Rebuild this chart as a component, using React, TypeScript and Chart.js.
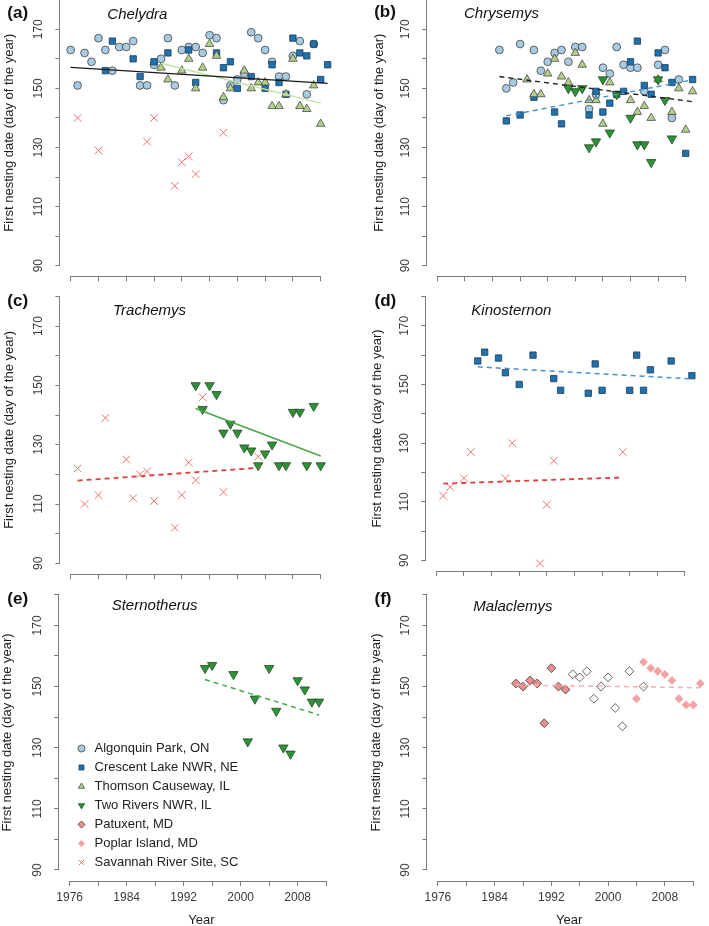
import React, { useEffect, useRef } from 'react';
import { Chart, registerables } from 'chart.js';

Chart.register(...registerables);

const FONT = "'Liberation Sans', Arial, Helvetica, sans-serif";
Chart.defaults.font.family = FONT;

// ---------------- data ----------------
const SITE_NAMES = [
  'Algonquin Park, ON',
  'Crescent Lake NWR, NE',
  'Thomson Causeway, IL',
  'Two Rivers NWR, IL',
  'Patuxent, MD',
  'Poplar Island, MD',
  'Savannah River Site, SC',
];
const Y_TITLE = 'First nesting date (day of the year)';
const X_TITLE = 'Year';
const Y_LABELLED_TICKS = [90, 110, 130, 150, 170];
const X_LABELLED_TICKS = [1976, 1984, 1992, 2000, 2008];

// (a) Chelydra
const A_ALG_YEARS = [1976, 1977, 1978, 1979, 1980, 1981, 1982, 1983, 1984, 1985, 1986, 1987, 1988, 1989, 1990, 1991, 1992, 1993, 1994, 1995, 1996, 1997, 1998, 1999, 2000, 2001, 2002, 2003, 2004, 2005, 2006, 2007, 2008, 2009, 2010, 2011];
const A_ALG = [163, 151, 162, 159, 167, 163, 156, 164, 164, 166, 151, 151, 158, 160, 167, 151, 163, 164, 164, 162, 168, 167, 146, 151, 153, 155, 169, 167, 163, 159, 154, 154, 161, 166, 148, 165];
const A_CRE_YEARS = [1981, 1982, 1985, 1986, 1988, 1990, 1993, 1994, 1997, 1998, 1999, 2000, 2002, 2004, 2005, 2006, 2007, 2008, 2009, 2010, 2011, 2012, 2013];
const A_CRE = [156, 166, 160, 154, 159, 162, 163, 152, 162, 157, 159, 150, 154, 150, 158, 152, 148, 167, 162, 161, 165, 153, 158];
const A_THO_YEARS = [1989, 1990, 1992, 1993, 1994, 1995, 1996, 1997, 1998, 1999, 2001, 2002, 2003, 2004, 2005, 2006, 2007, 2008, 2009, 2010, 2011, 2012];
const A_THO = [157, 153, 156, 160, 150, 157, 165, 161, 147, 150, 156, 150, 152, 152, 144, 144, 148, 160, 144, 143, 151, 138];
const A_SAV_YEARS = [1977, 1980, 1987, 1988, 1991, 1992, 1993, 1994, 1998];
const A_SAV = [140, 129, 132, 140, 117, 125, 127, 121, 135];
const A_TREND_ALL_YEARS = [1976, 2013];
const A_TREND_ALL = [157.1, 151.7];
const A_TREND_THO_YEARS = [1989, 2012];
const A_TREND_THO = [158.5, 145];

// (b) Chrysemys
const B_ALG_YEARS = [1985, 1986, 1987, 1988, 1990, 1991, 1992, 1993, 1994, 1995, 1996, 1997, 1998, 1999, 2000, 2001, 2002, 2003, 2004, 2005, 2006, 2008, 2009, 2010, 2011];
const B_ALG = [163, 150, 152, 165, 163, 156, 159, 162, 163, 159, 164, 164, 143, 148, 157, 155, 164, 158, 157, 157, 149, 158, 163, 140, 153];
const B_CRE_YEARS = [1986, 1988, 1990, 1993, 1994, 1998, 1999, 2000, 2001, 2002, 2003, 2004, 2005, 2006, 2007, 2008, 2009, 2010, 2012, 2013];
const B_CRE = [139, 141, 147, 142, 138, 141, 149, 142, 145, 148, 149, 159, 166, 151, 148, 162, 157, 152, 128, 153];
const B_THO_YEARS = [1989, 1990, 1991, 1992, 1993, 1994, 1995, 1996, 1997, 1998, 1999, 2000, 2001, 2004, 2005, 2006, 2007, 2008, 2010, 2011, 2012, 2013];
const B_THO = [153, 148, 148, 155, 160, 154, 152, 162, 158, 146, 146, 138, 152, 146, 142, 144, 140, 153, 142, 150, 136, 149];
const B_TWO_YEARS = [1995, 1996, 1997, 1998, 1999, 2000, 2001, 2002, 2004, 2005, 2006, 2007, 2008, 2009, 2010];
const B_TWO = [150, 149, 150, 130, 132, 153, 135, 148, 140, 131, 131, 125, 153, 146, 133];
const B_TREND_ALL_YEARS = [1985, 2013];
const B_TREND_ALL = [154, 145.5];
const B_TREND_CRE_YEARS = [1986, 2013];
const B_TREND_CRE = [140.7, 152.9];

// (c) Trachemys
const C_SAV_YEARS = [1977, 1978, 1980, 1981, 1984, 1985, 1986, 1987, 1988, 1991, 1992, 1993, 1994, 1995, 1998, 2003];
const C_SAV = [122, 110, 113, 139, 125, 112, 120, 121, 111, 102, 113, 124, 118, 146, 114, 126];
const C_TWO_YEARS = [1994, 1995, 1996, 1997, 1998, 1999, 2000, 2001, 2002, 2003, 2004, 2005, 2006, 2007, 2008, 2009, 2010, 2011, 2012];
const C_TWO = [150, 142, 150, 147, 134, 137, 134, 129, 128, 123, 127, 130, 123, 123, 141, 141, 123, 143, 123];
const C_TREND_TWO_YEARS = [1994, 2012];
const C_TREND_TWO = [142.2, 126.2];
const C_TREND_SAV_YEARS = [1977, 2003];
const C_TREND_SAV = [117.9, 122.2];

// (d) Kinosternon
const D_CRE_YEARS = [1982, 1983, 1985, 1986, 1988, 1990, 1993, 1994, 1998, 1999, 2000, 2004, 2005, 2006, 2007, 2010, 2013];
const D_CRE = [158, 161, 159, 154, 150, 160, 152, 148, 147, 157, 148, 148, 160, 148, 155, 158, 153];
const D_SAV_YEARS = [1977, 1978, 1980, 1981, 1986, 1987, 1991, 1992, 1993, 2003];
const D_SAV = [112, 115, 118, 127, 118, 130, 89, 109, 124, 127];
const D_TREND_CRE_YEARS = [1982, 2013];
const D_TREND_CRE = [156, 151.9];
const D_TREND_SAV_YEARS = [1977, 2003];
const D_TREND_SAV = [116.2, 118.3];

// (e) Sternotherus
const E_TWO_YEARS = [1995, 1996, 1999, 2001, 2002, 2004, 2005, 2006, 2007, 2008, 2009, 2010, 2011];
const E_TWO = [156, 157, 154, 132, 146, 156, 142, 130, 128, 152, 149, 145, 145];
const E_TREND_TWO_YEARS = [1995, 2011];
const E_TREND_TWO = [152.3, 140.7];

// (f) Malaclemys
const F_PAT_YEARS = [1987, 1988, 1989, 1990, 1991, 1992, 1993, 1994];
const F_PAT = [151, 150, 152, 151, 138, 156, 150, 149];
const F_OPEN_YEARS = [1995, 1996, 1997, 1998, 1999, 2000, 2001, 2002, 2003, 2005];
const F_OPEN = [154, 153, 155, 146, 150, 153, 143, 137, 155, 150];
const F_POP_YEARS = [2004, 2005, 2006, 2007, 2008, 2009, 2010, 2011, 2012, 2013];
const F_POP = [146, 158, 156, 155, 154, 152, 146, 144, 144, 151];
const F_TREND_YEARS = [1987, 2013];
const F_TREND = [150.5, 149.6];

// ---------------- styles ----------------
type StyleKey = 'alg' | 'cre' | 'tho' | 'two' | 'pat' | 'patOpen' | 'pop' | 'sav';
const STYLE: Record<StyleKey, any> = {
  alg: { pointStyle: 'circle', radius: 3.9, bg: '#a6cbe2', border: '#444444', bw: 0.8, rot: 0 },
  cre: { pointStyle: 'rect', radius: 4.5, bg: '#1f72ad', border: '#1b3e5e', bw: 0.8, rot: 0 },
  tho: { pointStyle: 'triangle', radius: 4.9, bg: '#b1d188', border: '#4a4a4a', bw: 0.8, rot: 0 },
  two: { pointStyle: 'triangle', radius: 5.4, bg: '#2e9236', border: '#244a26', bw: 0.8, rot: 180 },
  pat: { pointStyle: 'rectRot', radius: 4.4, bg: '#eb8e8e', border: '#3e3e3e', bw: 0.8, rot: 0 },
  patOpen: { pointStyle: 'rectRot', radius: 4.4, bg: '#ffffff', border: '#3e3e3e', bw: 0.8, rot: 0 },
  pop: { pointStyle: 'rectRot', radius: 4.4, bg: '#f4a2a2', border: '#f4a2a2', bw: 0, rot: 0 },
  sav: { pointStyle: 'crossRot', radius: 5.4, bg: '#ee7370', border: '#ee7370', bw: 1, rot: 0 },
};
const LEGEND_KEYS: StyleKey[] = ['alg', 'cre', 'tho', 'two', 'pat', 'pop', 'sav'];

type Series = { key: StyleKey; label: string; years: number[]; values: number[] };
type Trend = { years: number[]; values: number[]; color: string; width: number; dash: number[] };

const DASH = [5, 4];

const PANELS: { letter: string; genus: string; series: Series[]; trends: Trend[]; showX: boolean }[] = [
  {
    letter: '(a)', genus: 'Chelydra', showX: false,
    series: [
      { key: 'alg', label: SITE_NAMES[0], years: A_ALG_YEARS, values: A_ALG },
      { key: 'cre', label: SITE_NAMES[1], years: A_CRE_YEARS, values: A_CRE },
      { key: 'tho', label: SITE_NAMES[2], years: A_THO_YEARS, values: A_THO },
      { key: 'sav', label: SITE_NAMES[6], years: A_SAV_YEARS, values: A_SAV },
    ],
    trends: [
      { years: A_TREND_ALL_YEARS, values: A_TREND_ALL, color: '#1a1a1a', width: 1.3, dash: [] },
      { years: A_TREND_THO_YEARS, values: A_TREND_THO, color: '#c6e0a4', width: 1.4, dash: [] },
    ],
  },
  {
    letter: '(b)', genus: 'Chrysemys', showX: false,
    series: [
      { key: 'alg', label: SITE_NAMES[0], years: B_ALG_YEARS, values: B_ALG },
      { key: 'cre', label: SITE_NAMES[1], years: B_CRE_YEARS, values: B_CRE },
      { key: 'tho', label: SITE_NAMES[2], years: B_THO_YEARS, values: B_THO },
      { key: 'two', label: SITE_NAMES[3], years: B_TWO_YEARS, values: B_TWO },
    ],
    trends: [
      { years: B_TREND_ALL_YEARS, values: B_TREND_ALL, color: '#222222', width: 1.4, dash: DASH },
      { years: B_TREND_CRE_YEARS, values: B_TREND_CRE, color: '#4a8fcf', width: 1.4, dash: DASH },
    ],
  },
  {
    letter: '(c)', genus: 'Trachemys', showX: false,
    series: [
      { key: 'two', label: SITE_NAMES[3], years: C_TWO_YEARS, values: C_TWO },
      { key: 'sav', label: SITE_NAMES[6], years: C_SAV_YEARS, values: C_SAV },
    ],
    trends: [
      { years: C_TREND_TWO_YEARS, values: C_TREND_TWO, color: '#4aa64a', width: 1.5, dash: [] },
      { years: C_TREND_SAV_YEARS, values: C_TREND_SAV, color: '#e23b3b', width: 1.8, dash: DASH },
    ],
  },
  {
    letter: '(d)', genus: 'Kinosternon', showX: false,
    series: [
      { key: 'cre', label: SITE_NAMES[1], years: D_CRE_YEARS, values: D_CRE },
      { key: 'sav', label: SITE_NAMES[6], years: D_SAV_YEARS, values: D_SAV },
    ],
    trends: [
      { years: D_TREND_CRE_YEARS, values: D_TREND_CRE, color: '#4a8fcf', width: 1.5, dash: DASH },
      { years: D_TREND_SAV_YEARS, values: D_TREND_SAV, color: '#e23b3b', width: 1.8, dash: DASH },
    ],
  },
  {
    letter: '(e)', genus: 'Sternotherus', showX: true,
    series: [
      { key: 'two', label: SITE_NAMES[3], years: E_TWO_YEARS, values: E_TWO },
    ],
    trends: [
      { years: E_TREND_TWO_YEARS, values: E_TREND_TWO, color: '#4aa64a', width: 1.5, dash: DASH },
    ],
  },
  {
    letter: '(f)', genus: 'Malaclemys', showX: true,
    series: [
      { key: 'pat', label: SITE_NAMES[4], years: F_PAT_YEARS, values: F_PAT },
      { key: 'patOpen', label: 'Patuxent, MD (open)', years: F_OPEN_YEARS, values: F_OPEN },
      { key: 'pop', label: SITE_NAMES[5], years: F_POP_YEARS, values: F_POP },
    ],
    trends: [
      { years: F_TREND_YEARS, values: F_TREND, color: '#f5b0b0', width: 1.5, dash: DASH },
    ],
  },
];

// ---------------- layout (page pixels) ----------------
const LAYOUT = [
  { plot: { L: 60.4, T: -10.9, R: 337.9, B: 276.3 }, canvas: { left: 0, top: -30, width: 350, height: 328 }, titlePad: 1.4,
    letterPos: { x: 7.3, base: 18.3 }, genusPos: { x: 107.3, base: 18.3 } },
  { plot: { L: 427.1, T: -10.9, R: 703.5, B: 276.3 }, canvas: { left: 366, top: -30, width: 343, height: 328 }, titlePad: 5.5,
    letterPos: { x: 374.2, base: 17.5 }, genusPos: { x: 464, base: 17.5 } },
  { plot: { L: 60.4, T: 285.7, R: 337.9, B: 574 }, canvas: { left: 0, top: 266, width: 350, height: 330 }, titlePad: 1.4,
    letterPos: { x: 7.3, base: 306.5 }, genusPos: { x: 113, base: 315 } },
  { plot: { L: 426.1, T: 285.9, R: 702.1, B: 571 }, canvas: { left: 366, top: 266, width: 343, height: 330 }, titlePad: 4,
    letterPos: { x: 374.5, base: 306.5 }, genusPos: { x: 471.3, base: 315 } },
  { plot: { L: 59.1, T: 583.8, R: 346.1, B: 881 }, canvas: { left: 0, top: 564, width: 350, height: 366 }, titlePad: 0,
    letterPos: { x: 7.3, base: 604 }, genusPos: { x: 111.7, base: 609.5 } },
  { plot: { L: 427.4, T: 583.8, R: 714.1, B: 881 }, canvas: { left: 366, top: 564, width: 350, height: 366 }, titlePad: 2.2,
    letterPos: { x: 374.5, base: 604 }, genusPos: { x: 473.3, base: 610.5 } },
];
const LEGEND_BOX = { left: 69.2, top: 735.8, width: 240, height: 160 };

const AXIS_COLOR = '#7c7c7c';
const TICK_COLOR = '#3a3a3a';
const TITLE_COLOR = '#1e1e1e';

const rAxesPlugin = {
  id: 'rAxes',
  afterDraw(chart: any) {
    const { ctx, chartArea } = chart;
    const xs = chart.scales.x;
    const ys = chart.scales.y;
    if (!xs || !ys || !xs.ticks.length || !ys.ticks.length) return;
    ctx.save();
    ctx.strokeStyle = AXIS_COLOR;
    ctx.lineWidth = 1;
    ctx.beginPath();
    const yb = Math.round(chartArea.bottom) + 0.5;
    const xt = xs.ticks;
    ctx.moveTo(xs.getPixelForValue(xt[0].value), yb);
    ctx.lineTo(xs.getPixelForValue(xt[xt.length - 1].value), yb);
    const xl = Math.round(chartArea.left) - 0.5;
    const yt = ys.ticks;
    ctx.moveTo(xl, ys.getPixelForValue(yt[0].value));
    ctx.lineTo(xl, ys.getPixelForValue(yt[yt.length - 1].value));
    ctx.stroke();
    ctx.restore();
  },
};

function buildConfig(panel: (typeof PANELS)[number], lay: (typeof LAYOUT)[number]) {
  const datasets: any[] = [];
  panel.trends.forEach((t) => {
    datasets.push({
      label: 'trend',
      data: t.years.map((x, i) => ({ x, y: t.values[i] })),
      showLine: true,
      pointRadius: 0,
      borderColor: t.color,
      borderWidth: t.width,
      borderDash: t.dash,
      fill: false,
      order: 0,
    });
  });
  panel.series.forEach((s, k) => {
    const st = STYLE[s.key];
    datasets.push({
      label: s.label,
      data: s.years.map((x, i) => ({ x, y: s.values[i] })),
      showLine: false,
      pointStyle: st.pointStyle,
      pointRadius: st.radius,
      pointBackgroundColor: st.bg,
      pointBorderColor: st.border,
      pointBorderWidth: st.bw,
      pointRotation: st.rot,
      order: 20 - k,
    });
  });
  const { plot, canvas } = lay;
  const yW = plot.L - canvas.left;
  const xH = canvas.top + canvas.height - plot.B;
  const grid = { display: true, drawOnChartArea: false, drawTicks: true, tickLength: 5, color: AXIS_COLOR, lineWidth: 1 };
  return {
    type: 'scatter',
    data: { datasets },
    plugins: [rAxesPlugin],
    options: {
      animation: false,
      responsive: false,
      events: [],
      layout: { padding: { top: plot.T - canvas.top, right: canvas.left + canvas.width - plot.R, left: 0, bottom: 0 } },
      plugins: { legend: { display: false }, tooltip: { enabled: false } },
      scales: {
        x: {
          type: 'linear',
          min: 1974.52,
          max: 2014.48,
          afterFit: (s: any) => { s.height = xH; },
          border: { display: false },
          grid,
          ticks: {
            display: panel.showX,
            stepSize: 4,
            autoSkip: false,
            includeBounds: false,
            minRotation: 0,
            maxRotation: 0,
            padding: 4.5,
            color: TICK_COLOR,
            font: { family: FONT, size: 12 },
            callback: (v: any) => (X_LABELLED_TICKS.includes(Number(v)) ? String(v) : ''),
          },
          title: {
            display: panel.showX,
            text: X_TITLE,
            color: TITLE_COLOR,
            font: { family: FONT, size: 13 },
            padding: { top: 0, bottom: 2.2 },
          },
        },
        y: {
          type: 'linear',
          min: 86.4,
          max: 183.6,
          afterFit: (s: any) => { s.width = yW; },
          border: { display: false },
          grid,
          ticks: {
            stepSize: 10,
            autoSkip: false,
            includeBounds: false,
            minRotation: 90,
            maxRotation: 90,
            crossAlign: 'center',
            padding: 6.5,
            color: TICK_COLOR,
            font: { family: FONT, size: 12 },
            callback: (v: any) => (Y_LABELLED_TICKS.includes(Number(v)) ? String(v) : ''),
          },
          title: {
            display: true,
            text: Y_TITLE,
            color: TITLE_COLOR,
            font: { family: FONT, size: 13 },
            padding: { top: lay.titlePad, bottom: 0 },
          },
        },
      },
    },
  } as any;
}

function Panel({ index }: { index: number }) {
  const ref = useRef<HTMLCanvasElement | null>(null);
  const panel = PANELS[index];
  const lay = LAYOUT[index];
  useEffect(() => {
    if (!ref.current) return;
    const chart = new Chart(ref.current, buildConfig(panel, lay));
    return () => chart.destroy();
  }, [index]);
  const c = lay.canvas;
  const letterSize = 17;
  const genusSize = 15;
  return (
    <>
      <canvas
        ref={ref}
        width={c.width}
        height={c.height}
        style={{ position: 'absolute', left: c.left, top: c.top, width: c.width, height: c.height }}
      />
      <div
        style={{
          position: 'absolute', left: lay.letterPos.x, top: lay.letterPos.base - 0.8465 * letterSize,
          fontSize: letterSize, lineHeight: `${letterSize}px`, fontWeight: 'bold', fontFamily: FONT,
          color: '#111', whiteSpace: 'nowrap',
        }}
      >
        {panel.letter}
      </div>
      <div
        style={{
          position: 'absolute', left: lay.genusPos.x, top: lay.genusPos.base - 0.8465 * genusSize,
          fontSize: genusSize, lineHeight: `${genusSize}px`, fontStyle: 'italic', fontFamily: FONT,
          color: '#111', whiteSpace: 'nowrap',
        }}
      >
        {panel.genus}
      </div>
    </>
  );
}

function LegendChart() {
  const ref = useRef<HTMLCanvasElement | null>(null);
  useEffect(() => {
    if (!ref.current) return;
    const chart = new Chart(ref.current, {
      type: 'scatter',
      data: { datasets: [] },
      options: {
        animation: false,
        responsive: false,
        events: [],
        layout: { padding: 0 },
        scales: { x: { display: false }, y: { display: false } },
        plugins: {
          tooltip: { enabled: false },
          legend: {
            display: true,
            position: 'left',
            align: 'start',
            maxWidth: 230,
            labels: {
              usePointStyle: true,
              boxWidth: 13,
              boxHeight: 5,
              padding: 6,
              color: '#222222',
              font: { family: FONT, size: 13 },
              generateLabels: () =>
                LEGEND_KEYS.map((k, i) => {
                  const st = STYLE[k];
                  return {
                    text: SITE_NAMES[i],
                    fillStyle: st.bg,
                    strokeStyle: st.border,
                    lineWidth: st.bw,
                    pointStyle: st.pointStyle,
                    rotation: st.rot,
                    hidden: false,
                    fontColor: '#222222',
                    datasetIndex: i,
                  };
                }),
            },
          },
        },
      },
    } as any);
    return () => chart.destroy();
  }, []);
  const b = LEGEND_BOX;
  return (
    <canvas
      ref={ref}
      width={b.width}
      height={b.height}
      style={{ position: 'absolute', left: b.left, top: b.top, width: b.width, height: b.height }}
    />
  );
}

export default function App() {
  return (
    <div
      style={{
        position: 'absolute', left: 0, top: 0, width: 709, height: 926, overflow: 'hidden',
        background: '#ffffff', fontFamily: FONT,
      }}
    >
      {PANELS.map((_, i) => (
        <Panel key={i} index={i} />
      ))}
      <LegendChart />
    </div>
  );
}
